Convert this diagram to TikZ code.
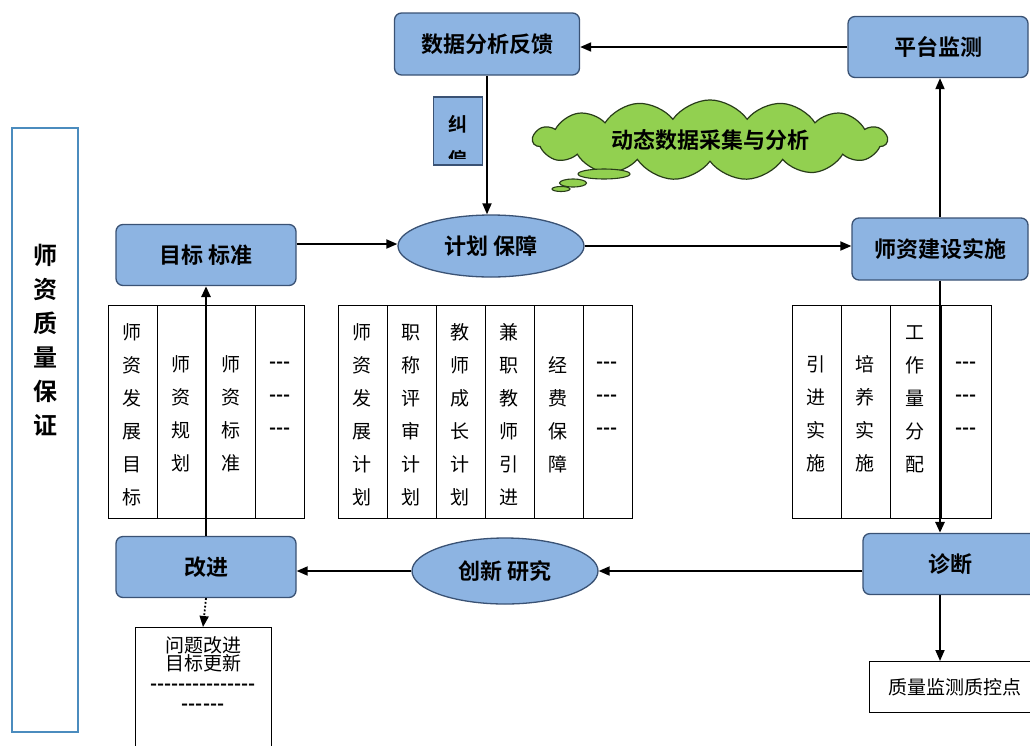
\documentclass[tikz,border=0pt]{standalone}
\usepackage{fontspec}
\newfontfamily\cjk[BoldFont={Noto Sans CJK SC Bold}]{Noto Sans CJK SC}
\usetikzlibrary{shapes.geometric,shapes.symbols,arrows.meta}

\definecolor{boxblue}{RGB}{141,180,226}
\definecolor{boxline}{RGB}{58,82,116}
\definecolor{cloudgreen}{RGB}{146,208,80}
\definecolor{cloudline}{RGB}{40,60,25}
\definecolor{sideline}{RGB}{75,140,190}

\begin{document}
\cjk
\begin{tikzpicture}[x=1pt,y=-1pt,
stage/.style={
	% The shape:
	rectangle,rounded corners=7pt,
	% The size:
	minimum width=180pt,minimum height=61pt,inner sep=0pt,
	% The border:
	line width=1.3pt,draw=boxline,
	% The filling:
	fill=boxblue,
	% Font
	font=\fontsize{22}{26}\selectfont\bfseries},
oval/.style={
	% The shape:
	ellipse,minimum width=186pt,minimum height=62pt,inner sep=0pt,
	% The rest
	line width=1.3pt,draw=boxline,fill=boxblue,
	font=\fontsize{22}{26}\selectfont\bfseries},
cell/.style={inner sep=0pt,align=center,font=\fontsize{19}{33}\selectfont},
plain/.style={rectangle,draw=black,line width=1pt,fill=white,inner sep=0pt},
flow/.style={-{Triangle[length=11pt,width=9pt]},line width=1.8pt},
bigflow/.style={flow,line width=2.8pt}]

\useasboundingbox (0,0) rectangle (1030,745);
\clip (0,0) rectangle (1030,745);

% side title
\node (side) [draw=sideline,line width=1.6pt,minimum width=66pt,minimum height=604pt,inner sep=0pt] at (45,430) {};
\node (sidetext) [align=center,font=\fontsize{24}{34}\selectfont\bfseries] at (45,340) {师\\资\\质\\量\\保\\证};

% top row
\node (feedback) [stage,minimum width=185pt,minimum height=62pt] at (487,44) {数据分析反馈};
\node (monitor) [stage] at (938,47) {平台监测};

% correction tag, text cut off by its box
\node (fix) [rectangle,draw=boxline,fill=boxblue,line width=1.2pt,minimum width=49pt,minimum height=68pt,inner sep=0pt] at (458,131) {};
\begin{scope}
\clip (434,98) rectangle (483,158);
\node (fixtext) [align=center,font=\fontsize{19}{35}\selectfont\bfseries] at (458,142) {纠\\偏};
\end{scope}

% thought cloud
\node (cloud) [cloud,cloud puffs=15,cloud puff arc=110,aspect=5.5,minimum width=354pt,minimum height=62pt,inner sep=0pt,
	draw=cloudline,line width=1.2pt,fill=cloudgreen,font=\fontsize{22}{26}\selectfont\bfseries] at (710,140) {动态数据采集与分析};
\node (puffa) [ellipse,draw=cloudline,fill=cloudgreen,line width=1.1pt,minimum width=52pt,minimum height=10pt,inner sep=0pt] at (604,174) {};
\node (puffb) [ellipse,draw=cloudline,fill=cloudgreen,line width=1.1pt,minimum width=27pt,minimum height=8pt,inner sep=0pt] at (573,183) {};
\node (puffc) [ellipse,draw=cloudline,fill=cloudgreen,line width=1.1pt,minimum width=18pt,minimum height=5pt,inner sep=0pt] at (561,189) {};

% middle row
\node (goal) [stage] at (206,255) {目标 标准};
\node (plan) [oval] at (491,246) {计划 保障};
\node (impl) [stage,minimum width=176pt,minimum height=62pt] at (940,249) {师资建设实施};

% tables
\draw[line width=1pt] (108,305) rectangle (304,518);
\foreach \x in {157,206,255} \draw[line width=1pt] (\x,305) -- (\x,518);
\draw[line width=1pt] (338,305) rectangle (632,518);
\foreach \x in {387,436,485,534,583} \draw[line width=1pt] (\x,305) -- (\x,518);
\draw[line width=1pt] (792,305) rectangle (991,518);
\foreach \x in {841,890,941} \draw[line width=1pt] (\x,305) -- (\x,518);

\node (ta) [cell] at (132,415) {师\\资\\发\\展\\目\\标};
\node (tb) [cell] at (181,414) {师\\资\\规\\划};
\node (tc) [cell] at (231,414) {师\\资\\标\\准};
\node (td) [cell,font=\fontsize{19}{33}\selectfont\bfseries] at (280,398) {-{}-{}-\\-{}-{}-\\-{}-{}-};

\node (pa) [cell] at (362,415) {师\\资\\发\\展\\计\\划};
\node (pb) [cell] at (411,415) {职\\称\\评\\审\\计\\划};
\node (pc) [cell] at (460,415) {教\\师\\成\\长\\计\\划};
\node (pd) [cell] at (509,415) {兼\\职\\教\\师\\引\\进};
\node (pe) [cell] at (558,415) {经\\费\\保\\障};
\node (pf) [cell,font=\fontsize{19}{33}\selectfont\bfseries] at (607,398) {-{}-{}-\\-{}-{}-\\-{}-{}-};

\node (ia) [cell] at (816,414) {引\\进\\实\\施};
\node (ib) [cell] at (865,414) {培\\养\\实\\施};
\node (ic) [cell] at (915,399) {工\\作\\量\\分\\配};
\node (id) [cell,font=\fontsize{19}{33}\selectfont\bfseries] at (966,398) {-{}-{}-\\-{}-{}-\\-{}-{}-};

% bottom row
\node (improve) [stage] at (206,567) {改进};
\node (innov) [oval,minimum height=66pt] at (505,571) {创新 研究};
\node (diag) [stage,minimum width=174pt] at (950,564) {诊断};

\node (issue) [plain,anchor=north,minimum width=136pt,minimum height=130pt] at (203,627) {};
\node (issuetext) [anchor=north,align=center,inner sep=0pt,font=\fontsize{19}{18}\selectfont] at (203,636)
	{问题改进\\目标更新\\[2pt]\textbf{-{}-{}-{}-{}-{}-{}-{}-{}-{}-{}-{}-{}-{}-{}-}\\[2pt]\textbf{-{}-{}-{}-{}-{}-}};
\node (qc) [plain,minimum width=172pt,minimum height=51pt,font=\fontsize{19}{22}\selectfont] at (955,687) {质量监测质控点};

% connectors
\draw[flow] (monitor.west) -- (monitor.west -| feedback.east);
\draw[flow] (feedback.south) -- (feedback.south |- plan.north);
\draw[flow] ([yshift=11pt]goal.east) -- ([yshift=11pt]goal.east -| plan.west);
\draw[flow] (plan.east) -- (plan.east -| impl.west);
\draw[flow] (impl.north) -- (impl.north |- monitor.south);
\draw[bigflow] (impl.south) -- (impl.south |- diag.north);
\draw[flow] (diag.west |- innov.east) -- (innov.east);
\draw[flow] (innov.west) -- (innov.west -| improve.east);
\draw[bigflow] (improve.north) -- (goal.south);
\draw[flow,dotted] (improve.south) -- (issue.north);
\draw[flow] (diag.south -| impl.south) -- (impl.south |- qc.north);

\end{tikzpicture}
\end{document}
